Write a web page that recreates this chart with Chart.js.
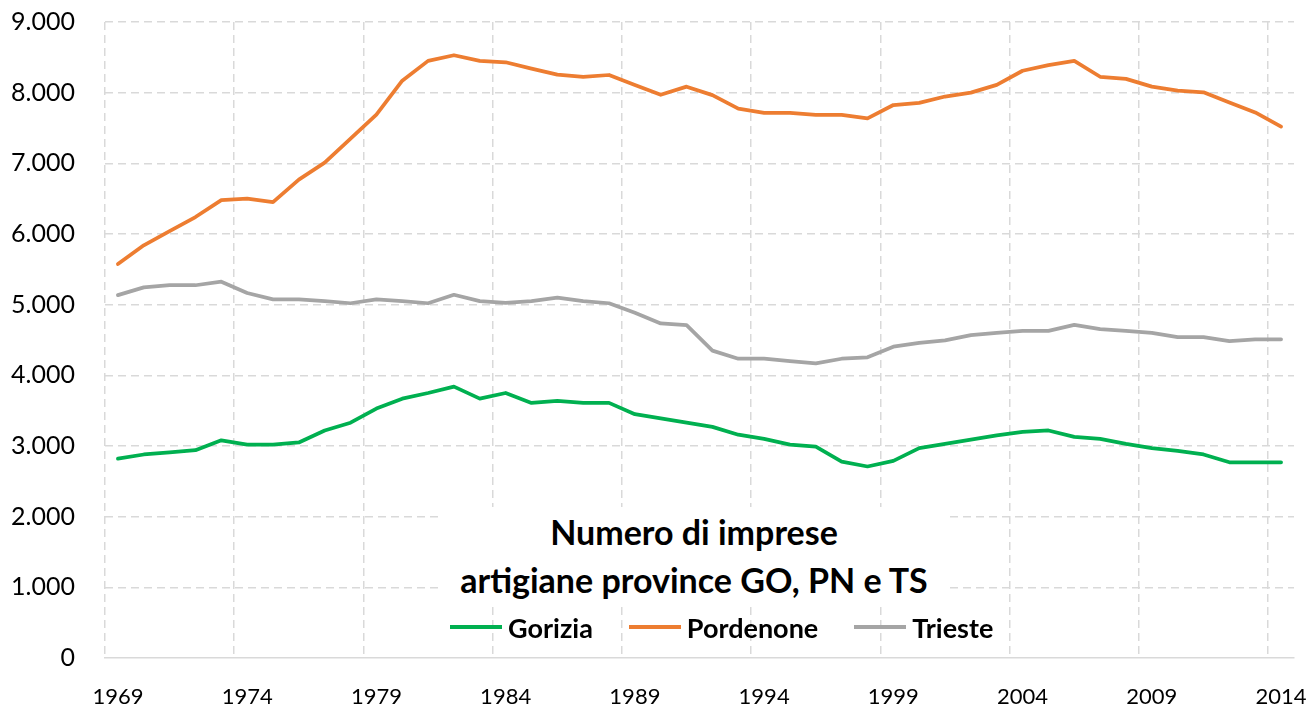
<!DOCTYPE html>
<html>
<head>
    <meta charset="utf-8" />
    <title>Imprese artigiane GO, PN, TS</title>
    <script src="https://cdn.jsdelivr.net/npm/chart.js"></script>
    <style>
        body { margin: 0; background: #fff; }
        #wrap { position: relative; width: 1312px; height: 707px; }
        #titleBox {
            position: absolute; left: 442px; top: 507px; width: 504px; height: 100px;
            background: #fff; text-align: center;
            font-family: Lato, sans-serif; font-weight: bold; font-size: 34px; line-height: 48px; color: #000;
            padding-top: 1px; box-sizing: border-box; white-space: nowrap;
        }
        #legend {
            position: absolute; left: 450px; top: 610px; height: 34px;
            display: flex; align-items: center;
            font-family: Lato, sans-serif; font-weight: bold; font-size: 27px; color: #000;
        }
        #legend .item { display: flex; align-items: center; margin-right: 36px; }
        #legend .swatch { width: 52px; height: 4px; margin-right: 6px; }
    </style>
</head>
<body>
    <div id="wrap">
        <canvas id="chart"></canvas>
        <div id="titleBox">Numero di imprese<br />artigiane province GO, PN e TS</div>
        <div id="legend"></div>
    </div>

    <script>
        // anni 1969 - 2014
        const years = ['1969', '1970', '1971', '1972', '1973', '1974', '1975', '1976', '1977', '1978',
            '1979', '1980', '1981', '1982', '1983', '1984', '1985', '1986', '1987', '1988',
            '1989', '1990', '1991', '1992', '1993', '1994', '1995', '1996', '1997', '1998',
            '1999', '2000', '2001', '2002', '2003', '2004', '2005', '2006', '2007', '2008',
            '2009', '2010', '2011', '2012', '2013', '2014'];

        const gorizia = [2820, 2880, 2910, 2940, 3080, 3020, 3020, 3050, 3220, 3330,
            3530, 3670, 3750, 3840, 3670, 3750, 3610, 3640, 3610, 3610,
            3450, 3390, 3330, 3270, 3160, 3100, 3020, 2990, 2780, 2710,
            2790, 2970, 3030, 3090, 3150, 3200, 3220, 3130, 3100, 3030,
            2970, 2930, 2880, 2770, 2770, 2770];

        const pordenone = [5575, 5840, 6040, 6240, 6480, 6500, 6450, 6770, 7010, 7350,
            7690, 8170, 8450, 8530, 8450, 8430, 8340, 8255, 8225, 8250,
            8110, 7970, 8085, 7965, 7775, 7715, 7715, 7685, 7685, 7635,
            7825, 7855, 7945, 8000, 8110, 8310, 8390, 8450, 8225, 8195,
            8085, 8030, 8005, 7860, 7720, 7520];

        const trieste = [5135, 5245, 5275, 5275, 5325, 5165, 5075, 5075, 5050, 5020,
            5075, 5050, 5020, 5140, 5050, 5025, 5050, 5100, 5050, 5020,
            4885, 4735, 4710, 4350, 4235, 4235, 4200, 4170, 4235, 4255,
            4405, 4460, 4495, 4570, 4600, 4630, 4630, 4715, 4655, 4630,
            4600, 4540, 4540, 4485, 4510, 4510];

        const yTickLabels = ['0', '1.000', '2.000', '3.000', '4.000', '5.000', '6.000', '7.000', '8.000', '9.000'];

        const gridColor = '#d9d9d9';

        const ctx = document.getElementById('chart').getContext('2d');
        const chart = new Chart(ctx, {
            type: 'line',
            data: {
                labels: years,
                datasets: [
                    { label: 'Gorizia', data: gorizia, borderColor: '#00b050', backgroundColor: '#00b050' },
                    { label: 'Pordenone', data: pordenone, borderColor: '#ed7d31', backgroundColor: '#ed7d31' },
                    { label: 'Trieste', data: trieste, borderColor: '#a5a5a5', backgroundColor: '#a5a5a5' }
                ]
            },
            options: {
                responsive: true,
                maintainAspectRatio: false,
                animation: false,
                layout: { padding: { left: 0, right: 18, top: 22, bottom: 0 } },
                elements: {
                    line: { borderWidth: 3.75, tension: 0, borderCapStyle: 'round', borderJoinStyle: 'round' },
                    point: { radius: 0, hoverRadius: 0 }
                },
                plugins: {
                    legend: { display: false },
                    title: { display: false },
                    tooltip: { enabled: false }
                },
                scales: {
                    x: {
                        offset: true,
                        // niente padding extra ai lati, l'area la decide il layout
                        afterFit: s => { s.height = 49; s.paddingLeft = 0; s.paddingRight = 0; },
                        grid: {
                            offset: true,
                            drawTicks: false,
                            lineWidth: 1.5,
                            color: c => (c.index % 5 === 0 ? gridColor : 'rgba(0,0,0,0)')
                        },
                        border: { display: true, color: gridColor, width: 1.5, dash: [8, 5] },
                        ticks: {
                            autoSkip: false,
                            maxRotation: 0,
                            padding: 26,
                            color: '#000',
                            font: { family: 'Lato', size: 22 },
                            callback: (v, i) => (i % 5 === 0 ? years[i] : '')
                        }
                    },
                    y: {
                        min: 0,
                        max: 9000,
                        afterFit: s => { s.width = 105; s.paddingTop = 0; s.paddingBottom = 0; },
                        grid: {
                            drawTicks: false,
                            lineWidth: 1.5,
                            color: c => (c.tick && c.tick.value === 0 ? 'rgba(0,0,0,0)' : gridColor)
                        },
                        border: { display: false, dash: [8, 5] },
                        ticks: {
                            stepSize: 1000,
                            padding: 30,
                            color: '#000',
                            font: { family: 'Lato', size: 25 },
                            callback: v => yTickLabels[v / 1000]
                        }
                    }
                }
            }
        });

        // legenda html presa dai dataset
        const legendDiv = document.getElementById('legend');
        chart.data.datasets.forEach(ds => {
            const item = document.createElement('div');
            item.className = 'item';
            item.innerHTML = '<span class="swatch" style="background:' + ds.borderColor + '"></span>' + ds.label;
            legendDiv.appendChild(item);
        });
    </script>
</body>
</html>
